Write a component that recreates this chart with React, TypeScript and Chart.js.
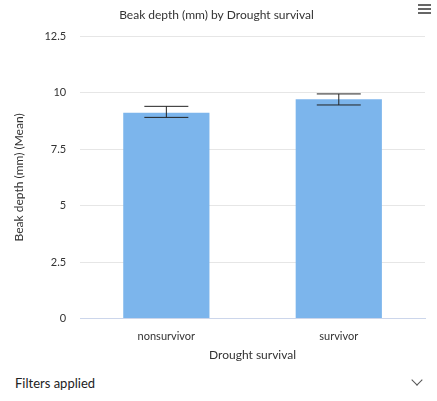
import { useEffect, useRef } from "react";
import { Chart, registerables } from "chart.js";

Chart.register(...registerables);

const categories = ["nonsurvivor", "survivor"];
const means = [9.12, 9.71];
const errLow = [8.91, 9.46];
const errHigh = [9.4, 9.95];

const errorBars = {
  id: "errorBars",
  afterDatasetsDraw(chart: any) {
    const { ctx, scales } = chart;
    const meta = chart.getDatasetMeta(0);
    ctx.save();
    ctx.strokeStyle = "#222";
    ctx.lineWidth = 1;
    meta.data.forEach((bar: any, i: number) => {
      const x = bar.x;
      const yl = scales.y.getPixelForValue(errLow[i]);
      const yh = scales.y.getPixelForValue(errHigh[i]);
      ctx.beginPath();
      ctx.moveTo(x, yl);
      ctx.lineTo(x, yh);
      ctx.moveTo(x - 22, yl);
      ctx.lineTo(x + 22, yl);
      ctx.moveTo(x - 22, yh);
      ctx.lineTo(x + 22, yh);
      ctx.stroke();
    });
    ctx.restore();
  },
};

export default function App() {
  const chartRef = useRef<HTMLCanvasElement>(null);
  const chartInstance = useRef<Chart | null>(null);

  useEffect(() => {
    document.body.style.margin = "0";
    if (chartRef.current) {
      const ctx = chartRef.current.getContext("2d");
      if (ctx) {
        if (chartInstance.current) chartInstance.current.destroy();
        chartInstance.current = new Chart(ctx, {
          type: "bar",
          data: {
            labels: categories,
            datasets: [
              {
                data: means,
                backgroundColor: "#7cb5ec",
                categoryPercentage: 1,
                barPercentage: 0.5,
              },
            ],
          },
          options: {
            responsive: true,
            maintainAspectRatio: false,
            animation: false,
            layout: { padding: { left: 8, right: 12, top: 0, bottom: 0 } },
            plugins: {
              legend: { display: false },
              tooltip: { enabled: false },
              title: {
                display: true,
                text: "Beak depth (mm) by Drought survival",
                color: "#333",
                font: { size: 12, family: "Lato", weight: "normal" },
                padding: { top: 8, bottom: 14 },
              },
            },
            scales: {
              x: {
                grid: { display: false },
                border: { color: "#ccd6eb" },
                ticks: { color: "#333", font: { size: 11, family: "Lato" } },
                title: {
                  display: true,
                  text: "Drought survival",
                  color: "#333",
                  font: { size: 12, family: "Lato" },
                  padding: { top: 2 },
                },
              },
              y: {
                min: 0,
                max: 12.5,
                ticks: {
                  stepSize: 2.5,
                  color: "#333",
                  font: { size: 11, family: "Lato" },
                  padding: 14,
                },
                grid: { color: "#e6e6e6", drawTicks: false },
                border: { display: false },
                title: {
                  display: true,
                  text: "Beak depth (mm) (Mean)",
                  color: "#333",
                  font: { size: 12, family: "Lato" },
                },
              },
            },
          },
          plugins: [errorBars],
        });
      }
    }
    return () => {
      if (chartInstance.current) {
        chartInstance.current.destroy();
        chartInstance.current = null;
      }
    };
  }, []);

  return (
    <div style={{ position: "relative", width: 437, height: 401, fontFamily: "Lato, sans-serif" }}>
      <div style={{ position: "relative", width: 437, height: 366 }}>
        <canvas ref={chartRef}></canvas>
      </div>
      <div style={{ position: "absolute", right: 6, top: 4, width: 13 }}>
        {[0, 1, 2].map((i) => (
          <div key={i} style={{ height: 2, background: "#666", marginBottom: 2 }} />
        ))}
      </div>
      <div style={{ position: "absolute", left: 15, top: 375, fontSize: 13, color: "#222" }}>
        Filters applied
      </div>
      <div
        style={{
          position: "absolute",
          left: 413,
          top: 376,
          width: 7,
          height: 7,
          borderRight: "1.5px solid #555",
          borderBottom: "1.5px solid #555",
          transform: "rotate(45deg)",
        }}
      />
    </div>
  );
}
